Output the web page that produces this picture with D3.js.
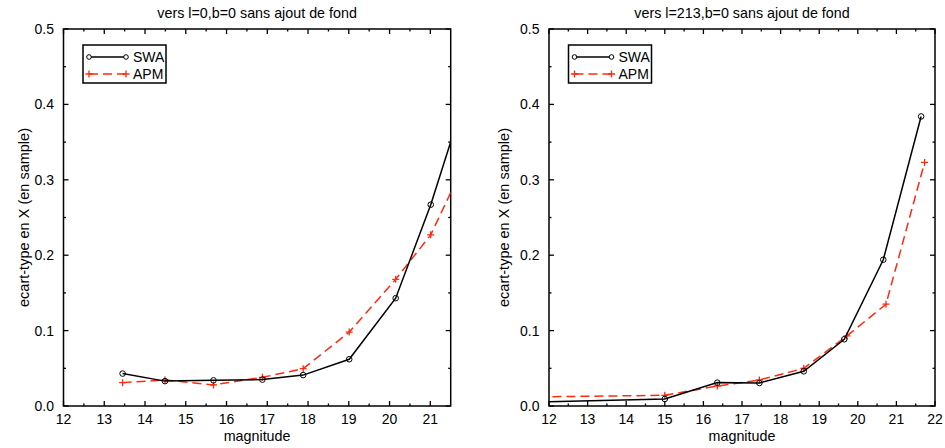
<!doctype html>
<html lang="fr">
<head>
<meta charset="utf-8">
<title>ecart-type en X</title>
<script src="https://d3js.org/d3.v7.min.js"></script>
<style>
  body { margin: 0; background: #fff; }
  svg { display: block; font-family: "Liberation Sans", Arial, sans-serif; }
</style>
</head>
<body>
<svg id="chart" width="945" height="448"></svg>
<script>
// left panel : vers l=0,b=0
var swaMagL = [13.45, 14.49, 15.68, 16.88, 17.88, 19.01, 20.15, 21.01, 22.0];
var swaValL = [0.043, 0.033, 0.034, 0.035, 0.041, 0.062, 0.143, 0.267, 0.435];
var apmMagL = [13.45, 14.49, 15.68, 16.88, 17.88, 19.01, 20.15, 21.01, 22.0];
var apmValL = [0.031, 0.0345, 0.028, 0.038, 0.0495, 0.098, 0.168, 0.227, 0.34];

// right panel : vers l=213,b=0
var swaMagR = [11.0, 15.0, 16.36, 17.45, 18.6, 19.65, 20.66, 21.64];
var swaValR = [0.0045, 0.0093, 0.031, 0.0305, 0.046, 0.0885, 0.194, 0.384];
var apmMagR = [11.0, 15.0, 16.36, 17.45, 18.6, 19.72, 20.73, 21.73];
var apmValR = [0.0116, 0.0142, 0.0265, 0.0345, 0.05, 0.093, 0.135, 0.323];

var yTicks = [0.0, 0.1, 0.2, 0.3, 0.4, 0.5];
var xTicksL = [12, 13, 14, 15, 16, 17, 18, 19, 20, 21];
var xTicksR = [12, 13, 14, 15, 16, 17, 18, 19, 20, 21, 22];

var red = "#ff2a10";
var svg = d3.select("#chart");

var panels = [
  {title: "vers l=0,b=0 sans ajout de fond", left: 63.5, right: 450.7, xMax: 21.5, xTicks: xTicksL,
   swa: d3.zip(swaMagL, swaValL), apm: d3.zip(apmMagL, apmValL), ylabX: 29},
  {title: "vers l=213,b=0 sans ajout de fond", left: 549, right: 935, xMax: 22, xTicks: xTicksR,
   swa: d3.zip(swaMagR, swaValR), apm: d3.zip(apmMagR, apmValR), ylabX: 509}
];

var plotTop = 29, plotBottom = 406;

panels.forEach(function(p, k){
  var x = d3.scaleLinear().domain([12, p.xMax]).range([p.left, p.right]);
  var y = d3.scaleLinear().domain([0, 0.5]).range([plotBottom, plotTop]);
  var g = svg.append("g");

  var clipId = "clip" + k;
  svg.append("clipPath").attr("id", clipId).append("rect")
    .attr("x", p.left).attr("y", plotTop).attr("width", p.right - p.left).attr("height", plotBottom - plotTop);

  // ticks, mirrored, pointing inward
  var xMinor = d3.range(12.5, p.xMax, 1);
  var yMinor = d3.range(0.05, 0.5, 0.1);
  function xt(list, len){
    list.forEach(function(v){
      g.append("line").attr("x1", x(v)).attr("x2", x(v)).attr("y1", plotBottom).attr("y2", plotBottom - len)
        .attr("stroke", "#000").attr("stroke-width", 1.3);
      g.append("line").attr("x1", x(v)).attr("x2", x(v)).attr("y1", plotTop).attr("y2", plotTop + len)
        .attr("stroke", "#000").attr("stroke-width", 1.3);
    });
  }
  function yt(list, len){
    list.forEach(function(v){
      g.append("line").attr("x1", p.left).attr("x2", p.left + len).attr("y1", y(v)).attr("y2", y(v))
        .attr("stroke", "#000").attr("stroke-width", 1.3);
      g.append("line").attr("x1", p.right).attr("x2", p.right - len).attr("y1", y(v)).attr("y2", y(v))
        .attr("stroke", "#000").attr("stroke-width", 1.3);
    });
  }
  xt(p.xTicks, 5); xt(xMinor, 2.5);
  yt(yTicks, 5); yt(yMinor, 2.5);

  g.append("rect").attr("x", p.left).attr("y", plotTop)
    .attr("width", p.right - p.left).attr("height", plotBottom - plotTop)
    .attr("fill", "none").attr("stroke", "#000").attr("stroke-width", 1.5);

  g.selectAll(".xl").data(p.xTicks).enter().append("text")
    .attr("x", function(d){ return x(d); }).attr("y", plotBottom + 17.5)
    .attr("text-anchor", "middle").attr("font-size", 14).text(function(d){ return d; });
  g.selectAll(".yl").data(yTicks).enter().append("text")
    .attr("x", p.left - 9.5).attr("y", function(d){ return y(d) + 5; })
    .attr("text-anchor", "end").attr("font-size", 14).text(function(d){ return d.toFixed(1); });

  g.append("text").attr("x", (p.left + p.right) / 2).attr("y", 17.5)
    .attr("text-anchor", "middle").attr("font-size", 14.3).text(p.title);
  g.append("text").attr("x", (p.left + p.right) / 2).attr("y", 441)
    .attr("text-anchor", "middle").attr("font-size", 14.3).text("magnitude");
  g.append("text").attr("transform", "translate(" + p.ylabX + "," + ((plotTop + plotBottom) / 2) + ") rotate(-90)")
    .attr("text-anchor", "middle").attr("font-size", 14.5).text("ecart-type en X (en sample)");

  var line = d3.line().x(function(d){ return x(d[0]); }).y(function(d){ return y(d[1]); });
  var data = g.append("g").attr("clip-path", "url(#" + clipId + ")");

  data.append("path").datum(p.apm).attr("d", line).attr("fill", "none")
    .attr("stroke", red).attr("stroke-width", 1.5).attr("stroke-dasharray", "9,5");
  data.selectAll(".plus").data(p.apm).enter().append("path")
    .attr("d", function(d){ var cx = x(d[0]), cy = y(d[1]);
      return "M" + (cx - 3.5) + "," + cy + "H" + (cx + 3.5) + "M" + cx + "," + (cy - 3.5) + "V" + (cy + 3.5); })
    .attr("stroke", red).attr("stroke-width", 1.3);

  data.append("path").datum(p.swa).attr("d", line).attr("fill", "none")
    .attr("stroke", "#000").attr("stroke-width", 1.5);
  data.selectAll(".circ").data(p.swa).enter().append("circle")
    .attr("cx", function(d){ return x(d[0]); }).attr("cy", function(d){ return y(d[1]); })
    .attr("r", 2.8).attr("fill", "none").attr("stroke", "#000").attr("stroke-width", 1);

  // legend
  var lx = p.left + 19.5, ly = 45;
  var lg = g.append("g");
  lg.append("rect").attr("x", lx).attr("y", ly).attr("width", 83).attr("height", 38)
    .attr("fill", "#fff").attr("stroke", "#000").attr("stroke-width", 1.5);
  lg.append("line").attr("x1", lx + 6).attr("x2", lx + 43).attr("y1", ly + 12).attr("y2", ly + 12)
    .attr("stroke", "#000").attr("stroke-width", 1.5);
  [lx + 6, lx + 43].forEach(function(cx){
    lg.append("circle").attr("cx", cx).attr("cy", ly + 12).attr("r", 2.3)
      .attr("fill", "#fff").attr("stroke", "#000").attr("stroke-width", 1);
  });
  lg.append("line").attr("x1", lx + 6).attr("x2", lx + 43).attr("y1", ly + 29).attr("y2", ly + 29)
    .attr("stroke", red).attr("stroke-width", 1.5).attr("stroke-dasharray", "9,5");
  [lx + 6, lx + 43].forEach(function(cx){
    lg.append("path").attr("d", "M" + (cx - 3.5) + "," + (ly + 29) + "H" + (cx + 3.5) + "M" + cx + "," + (ly + 25.5) + "V" + (ly + 32.5))
      .attr("stroke", red).attr("stroke-width", 1.3);
  });
  lg.append("text").attr("x", lx + 50).attr("y", ly + 17).attr("font-size", 14).text("SWA");
  lg.append("text").attr("x", lx + 50).attr("y", ly + 34).attr("font-size", 14).text("APM");
});
</script>
</body>
</html>
